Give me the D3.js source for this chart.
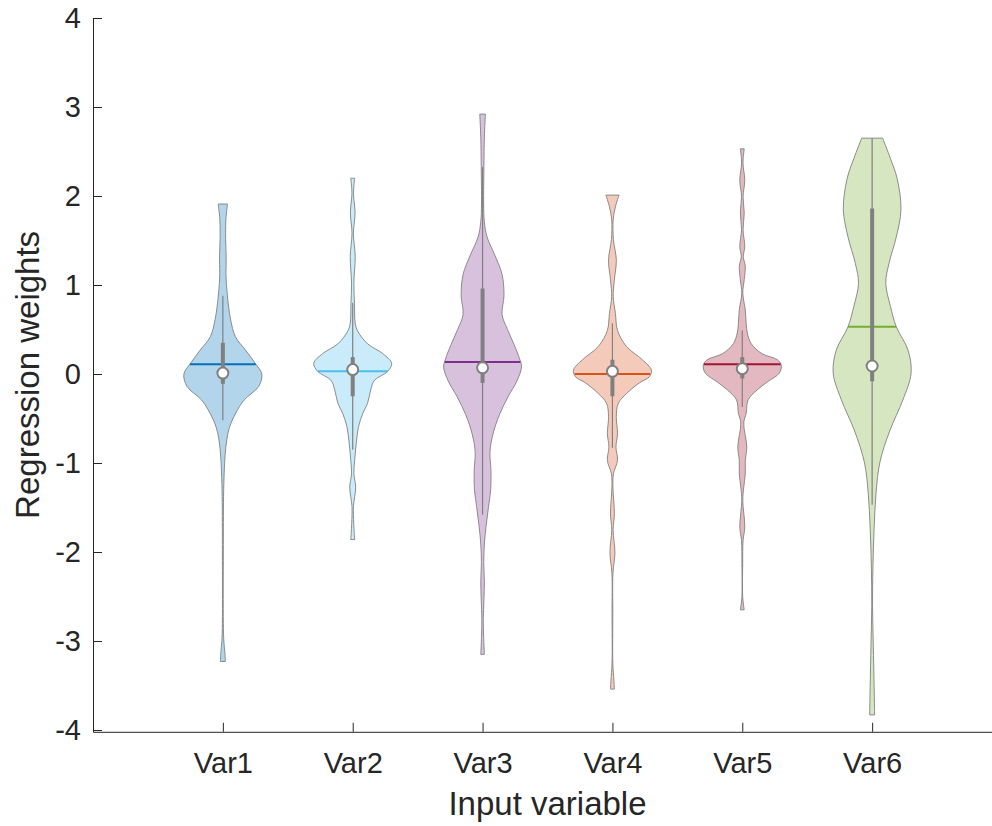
<!DOCTYPE html>
<html>
<head>
<meta charset="utf-8">
<script src="https://cdn.jsdelivr.net/npm/d3@7"></script>
<style>
    body { margin: 0; background: #fff; }
    svg { display: block; font-family: "Liberation Sans", Arial, Helvetica, sans-serif; }
</style>
</head>
<body>
<div id="chart"></div>
<script>
const variables = ["Var1", "Var2", "Var3", "Var4", "Var5", "Var6"];
const yTicks = [-4, -3, -2, -1, 0, 1, 2, 3, 4];

// summary stats
const means = [0.11, 0.03, 0.135, 0.0, 0.11, 0.53];
const medians = [0.01, 0.05, 0.07, 0.03, 0.06, 0.09];
const q1 = [-0.11, -0.25, -0.10, -0.25, -0.05, -0.08];
const q3 = [0.35, 0.19, 0.96, 0.16, 0.19, 1.86];
const whiskerLow = [-0.52, -0.85, -1.58, -0.83, -0.37, -1.47];
const whiskerHigh = [0.88, 0.80, 2.33, 0.57, 0.49, 2.65];

// kernel density estimates, [value, relative density]
const density1 = [[1.91, .12], [1.75, .08], [1.58, .07], [1.28, .085], [1.1, .08], [0.91, .11], [0.75, .15],
    [0.61, .2], [0.42, .32], [0.27, .58], [0.12, .83], [0.0, 1.0], [-0.14, .92], [-0.29, .55], [-0.44, .33],
    [-0.6, .17], [-0.74, .1], [-0.9, .06], [-1.1, .035], [-1.38, .018], [-2.0, .012], [-2.8, .012],
    [-3.0, .025], [-3.12, .05], [-3.23, .065]];
const density2 = [[2.20, .05], [2.03, .02], [1.81, .06], [1.58, .018], [1.32, .064], [1.02, .03], [0.79, .046],
    [0.57, .064], [0.48, .13], [0.34, .38], [0.23, .77], [0.12, 1.0], [0.03, .9], [-0.07, .56], [-0.18, .46],
    [-0.33, .38], [-0.44, .26], [-0.59, .15], [-0.78, .09], [-0.97, .05], [-1.12, .03], [-1.27, .077],
    [-1.38, .05], [-1.49, .018], [-1.68, .026], [-1.86, .05]];
const density3 = [[2.92, .072], [2.66, .046], [2.33, .035], [1.91, .028], [1.71, .046], [1.54, .115], [1.33, .32],
    [1.12, .5], [0.88, .55], [0.67, .5], [0.5, .64], [0.33, .81], [0.17, .95], [0.08, 1.0], [-0.08, .88],
    [-0.25, .66], [-0.46, .43], [-0.67, .27], [-0.87, .19], [-1.08, .215], [-1.29, .21], [-1.5, .15],
    [-1.71, .09], [-1.91, .046], [-2.12, .03], [-2.33, .046], [-2.54, .035], [-2.75, .018], [-2.96, .028],
    [-3.15, .046]];
const density4 = [[2.01, .17], [1.88, .077], [1.73, .018], [1.51, .026], [1.28, .1], [1.06, .05], [0.87, .02],
    [0.68, .077], [0.49, .13], [0.31, .36], [0.16, .77], [0.045, 1.0], [-0.03, .95], [-0.10, .69], [-0.22, .36],
    [-0.33, .15], [-0.48, .1], [-0.67, .13], [-0.82, .09], [-0.97, .13], [-1.12, .026], [-1.27, .013],
    [-1.57, .05], [-1.75, .018], [-2.01, .064], [-2.24, .013], [-2.69, .01], [-3.25, .01], [-3.44, .038],
    [-3.54, .05]];
const density5 = [[2.53, .05], [2.37, .018], [2.18, .064], [1.99, .02], [1.81, .05], [1.62, .02], [1.43, .064],
    [1.32, .026], [1.21, .077], [1.06, .05], [0.91, .013], [0.72, .077], [0.57, .1], [0.46, .13], [0.34, .23],
    [0.23, .5], [0.16, .9], [0.10, 1.0], [0.01, .95], [-0.09, .64], [-0.18, .38], [-0.29, .15], [-0.44, .1],
    [-0.55, .038], [-0.82, .115], [-0.97, .077], [-1.12, .077], [-1.27, .038], [-1.42, .013], [-1.72, .064],
    [-1.87, .02], [-2.13, .01], [-2.5, .01], [-2.65, .05]];
const density6 = [[2.65, .27], [2.42, .47], [2.2, .64], [1.85, .74], [1.54, .62], [1.24, .43], [1.02, .35],
    [0.76, .47], [0.53, .62], [0.27, .92], [0.01, 1.0], [-0.29, .79], [-0.64, .45], [-0.99, .2], [-1.34, .1],
    [-1.74, .05], [-2.17, .02], [-2.61, .01], [-3.05, .03], [-3.49, .05], [-3.83, .064]];
const densities = [density1, density2, density3, density4, density5, density6];

const faceColors = ["#b3d5eb", "#c9ebfa", "#d8c1dd", "#f4cbba", "#e3b8c1", "#d6e6c1"];
const lineColors = ["#0072bd", "#4dbeee", "#7e2f8e", "#d95319", "#a2142f", "#77ac30"];

const width = 992;
const height = 826;
const axisColor = "#262626";
const boxColor = "#808080";

const svg = d3.select("#chart")
    .append("svg")
    .attr("width", width)
    .attr("height", height);

const x = d3.scaleLinear()
    .domain([0, 7])
    .range([93, 1002]);
const y = d3.scaleLinear()
    .domain([-4.02, 4])
    .range([731.8, 18]);
// half width of a violin at relative density 1
const w = d3.scaleLinear()
    .domain([0, 1])
    .range([0, 0.3 * (x(1) - x(0))]);

const data = variables.map((name, i) => ({
    name: name,
    pos: i + 1,
    dens: densities[i],
    mean: means[i],
    median: medians[i],
    q1: q1[i],
    q3: q3[i],
    lo: whiskerLow[i],
    hi: whiskerHigh[i],
    face: faceColors[i],
    line: lineColors[i]
}));

// density at a given value, linear between the read points
function densityAt(dens, v) {
    const sorted = dens.slice().sort((a, b) => a[0] - b[0]);
    const i = d3.bisector(d => d[0]).left(sorted, v);
    if (i <= 0) return sorted[0][1];
    if (i >= sorted.length) return sorted[sorted.length - 1][1];
    const a = sorted[i - 1], b = sorted[i];
    const t = (v - a[0]) / (b[0] - a[0]);
    return a[1] + t * (b[1] - a[1]);
}

const groups = svg.append("g")
    .selectAll("g")
    .data(data)
    .join("g");

groups.append("path")
    .attr("d", d => d3.area()
        .y(p => y(p[0]))
        .x0(p => x(d.pos) - w(p[1]))
        .x1(p => x(d.pos) + w(p[1]))
        .curve(d3.curveCatmullRom)(d.dens))
    .attr("fill", d => d.face)
    .attr("stroke", boxColor)
    .attr("stroke-width", 0.9);

groups.append("line")
    .attr("x1", d => x(d.pos) - w(densityAt(d.dens, d.mean)))
    .attr("x2", d => x(d.pos) + w(densityAt(d.dens, d.mean)))
    .attr("y1", d => y(d.mean))
    .attr("y2", d => y(d.mean))
    .attr("stroke", d => d.line)
    .attr("stroke-width", 2);

// whiskers
groups.append("line")
    .attr("x1", d => x(d.pos))
    .attr("x2", d => x(d.pos))
    .attr("y1", d => y(d.hi))
    .attr("y2", d => y(d.lo))
    .attr("stroke", boxColor)
    .attr("stroke-width", 1.2);

// interquartile box
groups.append("line")
    .attr("x1", d => x(d.pos))
    .attr("x2", d => x(d.pos))
    .attr("y1", d => y(d.q3))
    .attr("y2", d => y(d.q1))
    .attr("stroke", boxColor)
    .attr("stroke-width", 4);

groups.append("circle")
    .attr("cx", d => x(d.pos))
    .attr("cy", d => y(d.median))
    .attr("r", 5.5)
    .attr("fill", "#fff")
    .attr("stroke", boxColor)
    .attr("stroke-width", 2);

// axes
const yAxis = svg.append("g")
    .attr("transform", `translate(${x(0)},0)`)
    .call(d3.axisLeft(y)
        .tickValues(yTicks)
        .tickFormat(d => String(d))
        .tickSizeInner(-9)
        .tickSizeOuter(0)
        .tickPadding(12));
const xAxis = svg.append("g")
    .attr("transform", `translate(0,${y(-4.02)})`)
    .call(d3.axisBottom(x)
        .tickValues(d3.range(1, variables.length + 1))
        .tickFormat(i => variables[i - 1])
        .tickSizeInner(-9)
        .tickSizeOuter(0)
        .tickPadding(21));

[yAxis, xAxis].forEach(ax => {
    ax.select(".domain").attr("stroke", axisColor);
    ax.selectAll(".tick line").attr("stroke", axisColor);
    ax.selectAll(".tick text")
        .attr("fill", axisColor)
        .attr("font-size", "29px")
        .attr("font-family", "Liberation Sans, Arial, sans-serif");
});

svg.append("text")
    .attr("transform", `translate(39,${(y(4) + y(-4.02)) / 2}) rotate(-90)`)
    .attr("text-anchor", "middle")
    .attr("font-size", "33px")
    .attr("fill", axisColor)
    .text("Regression weights");

svg.append("text")
    .attr("x", (x(0) + x(7)) / 2)
    .attr("y", 815)
    .attr("text-anchor", "middle")
    .attr("font-size", "33px")
    .attr("fill", axisColor)
    .text("Input variable");
</script>
</body>
</html>
